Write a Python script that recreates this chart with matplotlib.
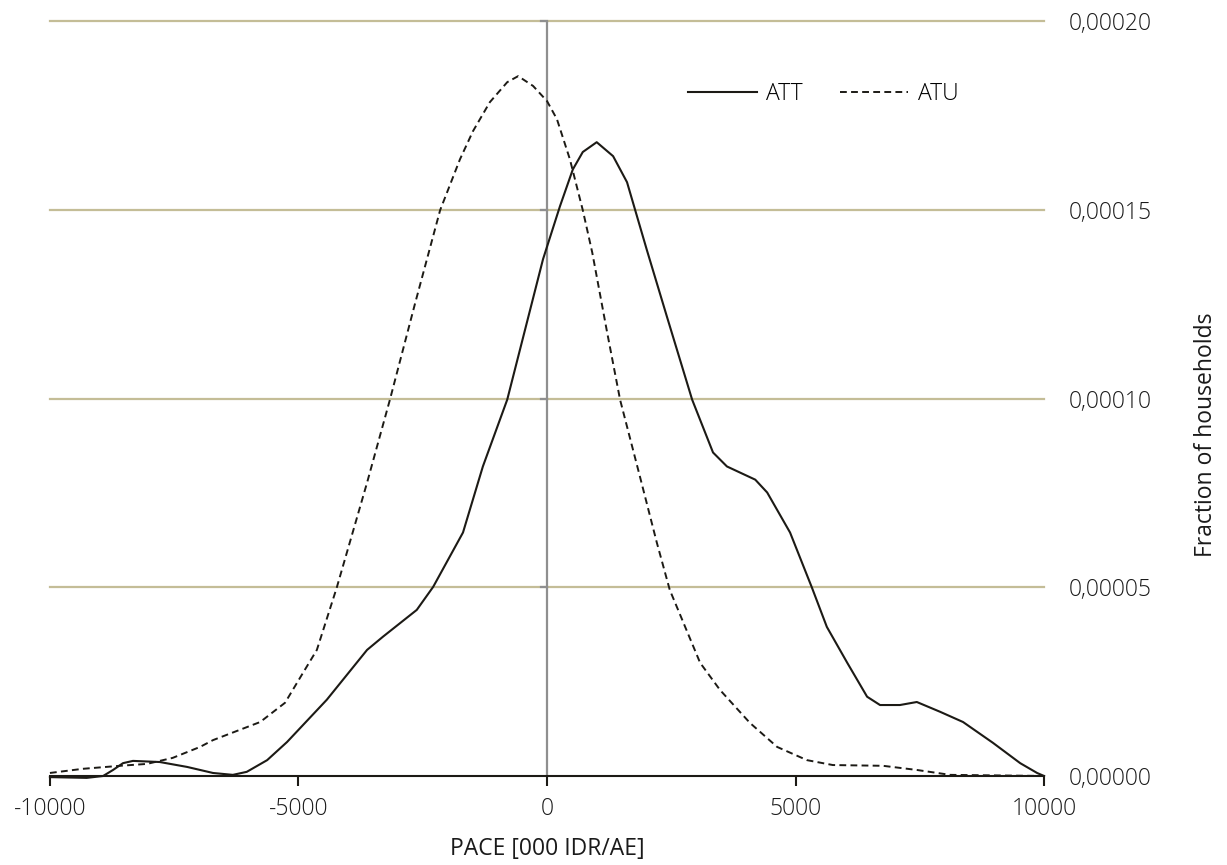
import matplotlib
matplotlib.use("Agg")
import matplotlib.pyplot as plt
from matplotlib.ticker import FuncFormatter

plt.rcParams['font.family'] = ['Open Sans', 'DejaVu Sans']
plt.rcParams['font.weight'] = 'light'

# ATT (trazo continuo) (y en unidades de 1e-5)
att_x = [-10000, -9260, -8930, -8730, -8530, -8330, -7790, -7240, -6720, -6320,
         -6040, -5630, -5230, -4430, -3620, -3300, -2620, -2290, -1690, -1290,
         -800, -440, -80, 260, 520, 720, 1000, 1330, 1610, 2010,
         2410, 2920, 3340, 3620, 3880, 4190, 4430, 4890, 5330, 5630,
         6040, 6440, 6700, 7100, 7440, 7910, 8370, 8970, 9520, 9860, 10000]
att_y = [-0.03, -0.05, 0.0, 0.16, 0.34, 0.40, 0.37, 0.24, 0.08, 0.03,
         0.11, 0.42, 0.90, 2.02, 3.34, 3.69, 4.40, 5.01, 6.45, 8.20,
         9.97, 11.83, 13.69, 15.09, 16.07, 16.53, 16.79, 16.42, 15.73, 13.93,
         12.18, 9.97, 8.57, 8.20, 8.04, 7.85, 7.51, 6.45, 4.99, 3.95,
         3.00, 2.10, 1.88, 1.88, 1.96, 1.70, 1.43, 0.88, 0.34, 0.08, 0.0]

# ATU (trazo discontinuo)
atu_x = [-10000, -9340, -8590, -8050, -7530, -6980, -6720, -5770, -5270, -4910,
         -4630, -4230, -3620, -3160, -2660, -2150, -1750, -1490, -1150, -800,
         -580, -280, 0, 200, 460, 720, 910, 1210, 1470, 1870,
         2210, 2470, 3080, 3480, 4080, 4630, 5230, 5750, 6760, 7440, 8110, 10000]
atu_y = [0.08, 0.19, 0.27, 0.32, 0.48, 0.77, 0.95, 1.43, 1.94, 2.73,
         3.34, 4.99, 7.77, 9.97, 12.49, 14.99, 16.34, 17.08, 17.85, 18.38,
         18.54, 18.28, 17.88, 17.40, 16.34, 14.99, 13.87, 11.75, 9.97, 7.93,
         6.18, 4.93, 3.00, 2.28, 1.41, 0.77, 0.42, 0.29, 0.27, 0.16, 0.03, 0.0]

x_ticks = [-10000, -5000, 0, 5000, 10000]
y_ticks = [0, 0.00005, 0.0001, 0.00015, 0.0002]

escala = 1e-5
color_linea = '#1c1a15'
color_grid = '#c4bd97'
color_eje = '#8f8f8f'
color_texto = '#1a1a1a'
tam = 16.5

fig = plt.figure(figsize=(12.27, 8.65), dpi=100)
ax = fig.add_axes([0.0407, 0.1029, 0.8102, 0.8728])

# lineas de la cuadricula
for yv in y_ticks[1:]:
    ax.axhline(yv, color=color_grid, lw=1.6, zorder=1, clip_on=False)

# eje vertical en x=0 con marcas
ax.axvline(0, color=color_eje, lw=1.6, zorder=2)
for yv in y_ticks[1:]:
    ax.plot([-130, 0], [yv, yv], color=color_eje, lw=1.6, zorder=2, clip_on=False)

ax.plot(att_x, [v * escala for v in att_y], color=color_linea, lw=1.5,
        label='ATT', zorder=3, clip_on=False)
ax.plot(atu_x, [v * escala for v in atu_y], color=color_linea, lw=1.4,
        dashes=(3.5, 2.2), label='ATU', zorder=3, clip_on=False)

ax.set_xlim(-10000, 10000)
ax.set_ylim(0, 0.0002)

for s in ['top', 'left', 'right']:
    ax.spines[s].set_visible(False)
ax.spines['bottom'].set_color(color_linea)
ax.spines['bottom'].set_linewidth(1.5)
ax.spines['bottom'].set_zorder(4)

ax.set_xticks(x_ticks)
ax.set_xticklabels([str(t) for t in x_ticks])
ax.tick_params(axis='x', length=7, width=1.5, color=color_linea, labelsize=tam,
               labelcolor=color_texto, pad=8)

ax.set_yticks(y_ticks)
ax.yaxis.set_major_formatter(FuncFormatter(lambda v, p: f"{v:.5f}".replace('.', ',')))
ax.tick_params(axis='y', left=False, right=False, labelleft=False, labelright=True,
               labelsize=tam, labelcolor=color_texto, pad=14)

ax.set_xlabel('PACE [000 IDR/AE]', fontsize=tam, color=color_texto, labelpad=12)
ax.set_ylabel('Fraction of households', fontsize=tam, color=color_texto)
ax.yaxis.set_label_position('right')
ax.yaxis.set_label_coords(1.151, 0.452)

ax.legend(loc='center', bbox_to_anchor=(0.778, 0.903), ncol=2, frameon=False,
          fontsize=tam, handlelength=3.0, columnspacing=1.6, handletextpad=0.4)

fig.savefig('out.png', dpi=100)
